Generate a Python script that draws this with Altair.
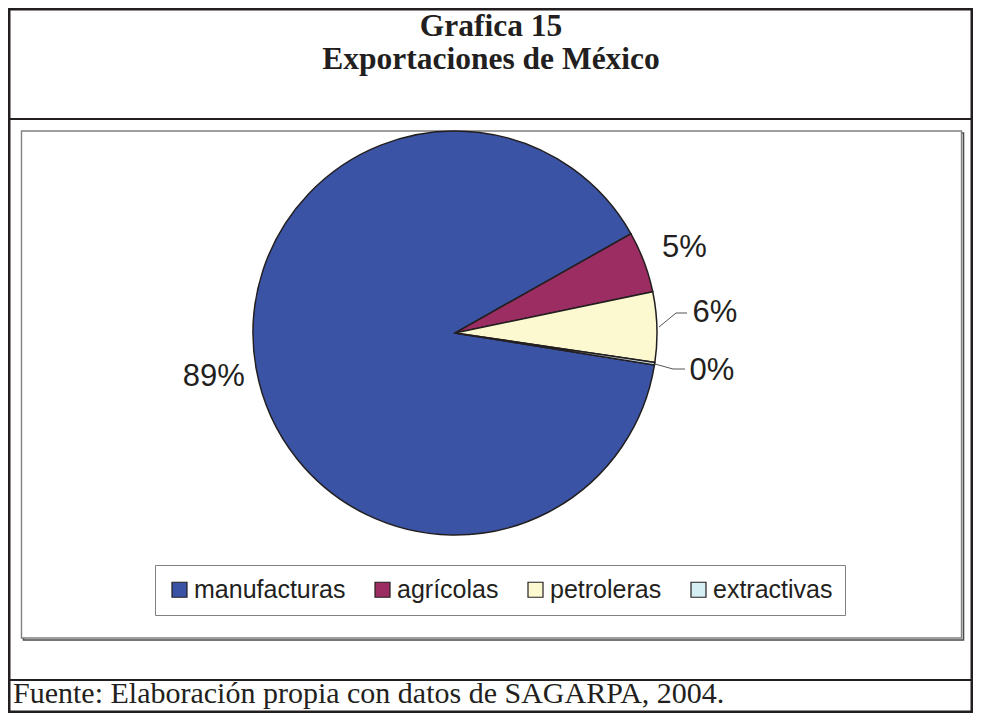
import math
import altair as alt
import pandas as pd

# ---- data ----
categories = ["manufacturas", "agrícolas", "petroleras", "extractivas"]
shares = [89.3, 4.9, 5.6, 0.2]
colors = ["#3A53A4", "#9B2D62", "#FCF8D0", "#D5EEF4"]
title_lines = ["Grafica 15", "Exportaciones de México"]
source_note = ["Fuente: Elaboración propia con datos de SAGARPA, 2004."]

# ---- layout (chart coordinates) ----
W, H = 965, 705
CX, CY, R = 447, 325, 202
START = math.radians(99.1)
INK = "#231F20"

df = pd.DataFrame({"cat": categories, "value": shares, "idx": list(range(len(categories)))})
one = alt.Data(values=[{"k": 0}])

theta = alt.Theta("value:Q", stack=True,
                  scale=alt.Scale(range=[START, START + 2 * math.pi]))
order = alt.Order("idx:Q", sort="ascending")


def frame(x, y, x2, y2, stroke, sw, fill=None):
    if fill:
        m = alt.Chart(one).mark_rect(fill=fill, stroke=stroke, strokeWidth=sw)
    else:
        m = alt.Chart(one).mark_rect(filled=False, stroke=stroke, strokeWidth=sw)
    return m.encode(x=alt.value(x), y=alt.value(y), x2=alt.value(x2), y2=alt.value(y2))


def rule(x, y, x2, y2, color, sw):
    return alt.Chart(one).mark_rule(color=color, strokeWidth=sw).encode(
        x=alt.value(x), y=alt.value(y), x2=alt.value(x2), y2=alt.value(y2))


# decorations: outer table, separators, chart frame with shadow
outer = frame(1.25, 1.25, W - 1.25, H - 1.25, INK, 2.5)
sep_top = rule(0, 111, W, 111, INK, 2.2)
sep_bot = rule(0, 672, W, 672, INK, 2.2)
shadow = frame(15.5, 125, 955.5, 632, "#4a4a4a", 1.6)
chart_box = frame(13.5, 123, 953.5, 630, "#808080", 1.4, fill="white")

pie = alt.Chart(df).mark_arc(stroke=INK, strokeWidth=1.5).encode(
    theta=theta,
    order=order,
    x=alt.value(CX),
    y=alt.value(CY),
    radius=alt.value(R),
    color=alt.Color(
        "cat:N",
        scale=alt.Scale(domain=categories, range=colors),
        sort=categories,
        legend=alt.Legend(
            title=None,
            orient="none",
            legendX=147,
            legendY=557,
            direction="horizontal",
            columns=4,
            columnPadding=24,
            padding=12,
            strokeColor="#808080",
            fillColor="white",
            symbolType="square",
            symbolSize=225,
            symbolStrokeColor=INK,
            symbolStrokeWidth=1.2,
            symbolOpacity=1,
            labelFont="Liberation Sans",
            labelFontSize=25,
            labelColor=INK,
            labelOffset=2,
            labelLimit=400,
        ),
    ),
)


def labels(show, radius, dy):
    cond = "indexof(" + str(show) + ", datum.cat) >= 0 ? format(datum.value / 100, '.0%') : ''"
    return alt.Chart(df).transform_calculate(lbl=cond).mark_text(
        radius=radius, dy=dy, font="Liberation Sans", fontSize=31, color=INK,
        align="center", baseline="middle"
    ).encode(
        theta=theta,
        order=order,
        x=alt.value(CX),
        y=alt.value(CY),
        text="lbl:N",
    )


lab_a = labels(["manufacturas", "agrícolas"], 245, 1)
lab_b = labels(["petroleras"], 260, -12)
lab_c = labels(["extractivas"], 260, -2)

leaders = [
    rule(651, 319, 668, 305, "#555555", 1),
    rule(668, 305, 679, 305, "#555555", 1),
    rule(647, 356, 665, 361, "#555555", 1),
    rule(665, 361, 677, 361, "#555555", 1),
]

tdf = pd.DataFrame({"t": title_lines, "row": [0, 1]})
title1 = alt.Chart(tdf).transform_filter("datum.row == 0").mark_text(
    font="Liberation Serif", fontSize=31.5, fontWeight="bold", color=INK,
    align="center", baseline="alphabetic").encode(
    x=alt.value(483), y=alt.value(28), text="t:N")
title2 = alt.Chart(tdf).transform_filter("datum.row == 1").mark_text(
    font="Liberation Serif", fontSize=31.5, fontWeight="bold", color=INK,
    align="center", baseline="alphabetic").encode(
    x=alt.value(483), y=alt.value(61), text="t:N")

src = alt.Chart(pd.DataFrame({"t": source_note})).mark_text(
    font="Liberation Serif", fontSize=30, color=INK,
    align="left", baseline="alphabetic").encode(
    x=alt.value(5), y=alt.value(695), text="t:N")

chart = alt.layer(
    outer, sep_top, sep_bot, shadow, chart_box, pie, lab_a, lab_b, lab_c,
    *leaders, title1, title2, src
).properties(
    width=W, height=H, padding=0,
    autosize=alt.AutoSizeParams(type="none"),
).configure_view(stroke=None)

chart.save("out.html", embed_options={"renderer": "svg", "actions": False})
